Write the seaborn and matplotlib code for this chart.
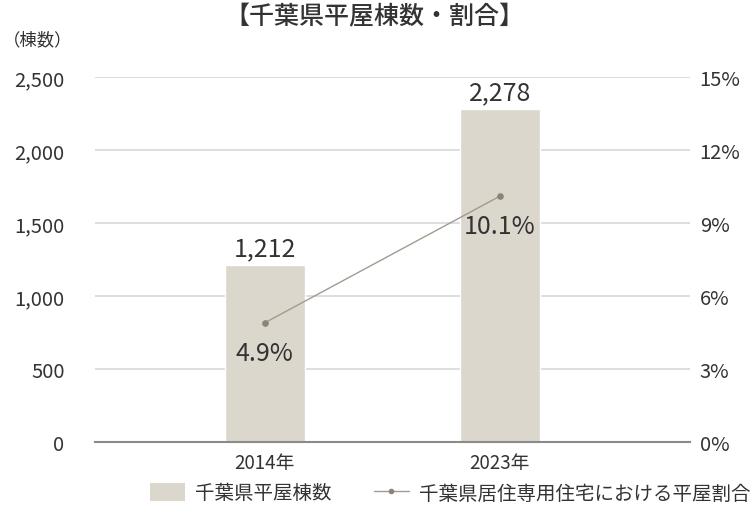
import matplotlib
matplotlib.use('Agg')
import matplotlib.pyplot as plt
import seaborn as sns
import pandas as pd
from matplotlib.patches import Patch
from matplotlib.lines import Line2D

# data
years = ['2014年', '2023年']
counts = [1212, 2278]
share = [4.9, 10.1]

sns.set_theme(style='white')
plt.rcParams['font.family'] = ['Noto Sans CJK JP', 'DejaVu Sans']

bar_color = '#dcd7cc'
line_color = '#a39a8f'
dot_color = '#8c8577'
text_color = '#333333'

df = pd.DataFrame({'year': years, 'count': counts, 'share': share})

fig = plt.figure(figsize=(7.5, 5.1), dpi=100)
ax = fig.add_axes([95 / 750, 1 - 443 / 510, 595 / 750, 365 / 510])

sns.barplot(data=df, x='year', y='count', color=bar_color, width=0.34,
            saturation=1, ax=ax, zorder=2)
ax.set_ylim(0, 2500)
ax.set_yticks(range(0, 2501, 500))
ax.set_yticklabels([f'{v:,}' for v in range(0, 2501, 500)])
ax.yaxis.grid(True, color='#d8d8d8', linewidth=1.2)
ax.set_axisbelow(True)
for s in ['top', 'right', 'left']:
    ax.spines[s].set_visible(False)
ax.spines['bottom'].set_color('#8a8a8a')
ax.spines['bottom'].set_linewidth(1.5)
ax.set_xlabel('')
ax.set_ylabel('')
ax.tick_params(axis='y', length=0, labelsize=14.5, labelcolor=text_color, pad=22)
ax.tick_params(axis='x', length=0, labelsize=13.5, labelcolor=text_color, pad=7)
for i, v in enumerate(counts):
    ax.text(i, v + 25, f'{v:,}', ha='center', va='bottom', fontsize=18, color=text_color)

ax2 = ax.twinx()
sns.pointplot(data=df, x='year', y='share', color=line_color, ax=ax2,
              markers='o', linewidth=1.0, markersize=4)
for ln in ax2.lines:
    ln.set_markerfacecolor(dot_color)
    ln.set_markeredgecolor(dot_color)
ax2.set_ylim(0, 15)
ax2.set_yticks(range(0, 16, 3))
ax2.set_yticklabels([f'{v}%' for v in range(0, 16, 3)])
ax2.tick_params(axis='y', length=0, labelsize=14.5, labelcolor=text_color, pad=7)
for s in ax2.spines.values():
    s.set_visible(False)
ax2.set_xlabel('')
ax2.set_ylabel('')
for i, v in enumerate(share):
    ax2.text(i, v - 0.7, f'{v}%', ha='center', va='top', fontsize=18, color=text_color)

ax.set_xlim(-0.723, 1.81)
ax2.set_xlim(-0.723, 1.81)

fig.text(374 / 750, 1 - 17 / 510, '【千葉県平屋棟数・割合】', ha='center', va='center',
         fontsize=18, fontweight='medium', color=text_color)
fig.text(3 / 750, 1 - 40 / 510, '（棟数）', ha='left', va='center', fontsize=12.5, color=text_color)

handles = [
    Patch(facecolor=bar_color, edgecolor='none', label='千葉県平屋棟数'),
    Line2D([0], [0], color=line_color, marker='o', markersize=3,
           markerfacecolor=dot_color, markeredgecolor=dot_color, linewidth=1,
           label='千葉県居住専用住宅における平屋割合'),
]
fig.legend(handles=handles, loc='center', bbox_to_anchor=(450 / 750, 1 - 494 / 510),
           ncol=2, frameon=False, fontsize=14, handlelength=1.8, handleheight=1.0,
           handletextpad=0.5, columnspacing=2.2, labelcolor=text_color)

fig.savefig('out.png', dpi=100)
